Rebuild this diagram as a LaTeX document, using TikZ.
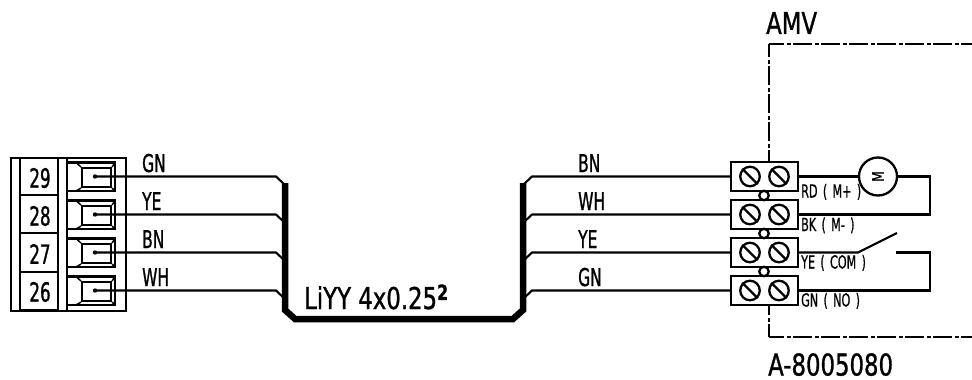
\documentclass[tikz,border=0pt]{standalone}
\usepackage{fontspec}
\setmainfont[FakeStretch=0.76,FakeBold=1]{DejaVu Sans}
\newfontfamily\narrowf[FakeStretch=0.63,FakeBold=1]{DejaVu Sans}
\newfontfamily\smallf[FakeStretch=0.62,FakeBold=0.7,WordSpace=1.5]{DejaVu Sans}
\tikzset{
 wire/.style={line width=2.1pt,line join=miter},
 thickcable/.style={line width=6.5pt,line join=miter},
 lbl/.style={inner sep=0pt,anchor=base west,font=\narrowf\fontsize{24.5}{24.5}\selectfont},
 tinylbl/.style={inner sep=0pt,anchor=base west,font=\smallf\fontsize{18}{18}\selectfont},
 big/.style={inner sep=0pt,anchor=base west,font=\fontsize{30}{30}\selectfont},
 part/.style={draw,line width=2.1pt,inner sep=0pt,minimum width=0pt},
 termbox/.style={draw,line width=2.3pt,inner sep=0pt,minimum width=67pt,minimum height=29pt},
 screw/.style={draw,circle,line width=2.3pt,inner sep=0pt,minimum size=19.5pt},
 link/.style={draw,circle,line width=2.3pt,inner sep=0pt,minimum size=9.5pt},
 border/.style={line width=2.7pt,dash pattern=on 19pt off 2.5pt on 4pt off 2.5pt}
}
\begin{document}
\begin{tikzpicture}[x=1pt,y=-1pt]
\useasboundingbox (0,0) rectangle (972,380);
% left terminal block
\node[part,anchor=north west,minimum width=115pt,minimum height=153pt] (block) at (10,157) {};
\draw[wire] (20,157) -- (20,310) (58,157) -- (58,310) (67,157) -- (67,310);
\foreach \n/\t/\b/\wy in {29/157/195/176,28/195/233/214,27/233/272/252,26/272/310/290}{
  \draw[wire] (20,\b) -- (58,\b);
  \node[font=\narrowf\fontsize{26.5}{26.5}\selectfont,inner sep=0pt] (num\n) at (40,\wy+2) {\n};
  \begin{scope}[shift={(0,\wy-176)}]
    \draw[wire] (68,162.5) -- (115,162.5) -- (115,191) -- (68,191);
    \node[part,anchor=north west,minimum width=29pt,minimum height=19pt] (pin\n) at (81,167) {};
    \draw[line width=1.5pt] (76,162.5) -- (pin\n.north west) (76,191) -- (pin\n.south west)
      (115,162.5) -- (pin\n.north east) (115,191) -- (pin\n.south east);
    \fill (95,176.5) circle (2.2pt);
    \coordinate (src\n) at (95,176.5);
  \end{scope}
}
% cable
\coordinate (cA) at (285,183);
\coordinate (cB) at (285,310);
\coordinate (cC) at (295,319);
\coordinate (cD) at (513,319);
\coordinate (cE) at (523,310);
\coordinate (cF) at (523,183);
\draw[thickcable] (cA) -- (cB) -- (cC) -- (cD) -- (cE) -- (cF);
% terminal boxes
\foreach \i/\y in {1/176.5,2/214.5,3/252.5,4/290.5}{
  \node[termbox] (tb\i) at (764.5,\y) {};
  \node[screw] (sa\i) at (750,\y) {};
  \node[screw] (sb\i) at (779,\y) {};
  \draw[line width=2.3pt] (sa\i.north west) -- (sa\i.south east) (sb\i.north west) -- (sb\i.south east);
}
\node[link] (lk1) at (764,195.5) {};
\node[link] (lk2) at (764,233.5) {};
\node[link] (lk3) at (764,271.5) {};
% wires
\draw[wire] (src29) -- (276,176.5) -- (285,185);
\draw[wire] (src28) -- (276,214.5) -- (285,223);
\draw[wire] (src27) -- (276,252.5) -- (285,261);
\draw[wire] (src26) -- (276,290.5) -- (285,299);
\draw[wire] (523,185) -- (532,176.5) -- (tb1.west);
\draw[wire] (523,223) -- (532,214.5) -- (tb2.west);
\draw[wire] (523,261) -- (532,252.5) -- (tb3.west);
\draw[wire] (523,299) -- (532,290.5) -- (tb4.west);
% motor
\node[draw,circle,line width=2.3pt,inner sep=0pt,minimum size=38pt] (motor) at (878,176.5) {};
\node[rotate=90,inner sep=0pt,font=\fontsize{16}{16}\selectfont] (mlabel) at (878,176.5) {M};
\draw[wire] (tb1.east) -- (motor.west);
\draw[wire] (motor.east) -- (930,176.5) -- (930,214.5) -- (tb2.east);
% switch
\coordinate (swA) at (858,252.5);
\coordinate (swB) at (897,233);
\coordinate (swC) at (896,252.5);
\draw[wire] (tb3.east) -- (swA) -- (swB);
\draw[wire] (swC) -- (930,252.5) -- (930,290.5) -- (tb4.east);
% dash-dot housing
\coordinate (hTR) at (972,44);
\coordinate (hTL) at (769,44);
\coordinate (hBL) at (769,337);
\coordinate (hBR) at (972,337);
\draw[border,dash phase=4pt] (hTL) -- (hTR);
\draw[border,dash phase=6pt] (hTL) -- (tb1.north -| hTL);
\draw[border,dash phase=4pt] (hBL) -- (hBR);
\draw[border,dash phase=6pt] (hBL) -- (tb4.south -| hBL);
% labels
\foreach \nm/\s/\x/\y in {a/GN/142/172,b/YE/142/210,c/BN/142/248,d/WH/142/286,e/BN/578/172,f/WH/578/210,g/YE/578/248,h/GN/578/286}
  \node[lbl] (w\nm) at (\x,\y) {\s};
\foreach \nm/\s/\y in {a/{RD ( M+ )}/197.5,b/{BK ( M- )}/231,c/{YE ( COM )}/268.5,d/{GN ( NO )}/306.5}
  \node[tinylbl] (t\nm) at (801,\y) {\s};
\node[big] (amv) at (766,34) {AMV};
\node[big] (code) at (768,375.5) {A-8005080};
\node[big] (cable) at (304,309) {LiYY 4x0.25\textsuperscript{\bfseries 2}};
\end{tikzpicture}
\end{document}
